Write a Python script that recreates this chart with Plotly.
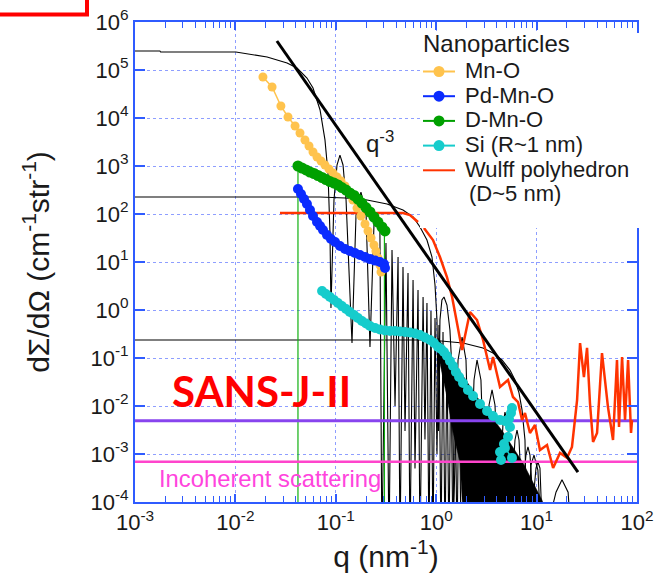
import plotly.graph_objects as go

# ---------------- data ----------------
series_names = ["Mn-O", "Pd-Mn-O", "D-Mn-O", "Si (R~1 nm)", "Wulff polyhedron"]
legend_title = "Nanoparticles"
wulff_note = "(D~5 nm)"

# Mn-O
q_mno = [0.0188, 0.0232, 0.0284, 0.0334, 0.0393, 0.044, 0.0493, 0.0541, 0.0593, 0.065,
         0.0713, 0.078, 0.0855, 0.0938, 0.1028, 0.1127, 0.1236, 0.135, 0.148, 0.1626,
         0.178, 0.1954, 0.2094, 0.2244, 0.240, 0.251, 0.263, 0.275, 0.282]
I_mno = [7.14e4, 4.43e4, 1.78e4, 1.05e4, 6.81e3, 4.87e3, 3.48e3, 2.61e3, 1.96e3, 1.54e3,
         1.27e3, 1.05e3, 866, 715, 590, 487, 383, 287, 196, 133,
         90.9, 61.9, 44.2, 31.6, 22.6, 16.9, 12.1, 8.66, 6.19]
# Pd-Mn-O
q_pd = [0.042, 0.045, 0.0482, 0.0516, 0.0553, 0.0593, 0.065, 0.0697, 0.0746, 0.0817, 0.0895,
        0.0983, 0.110, 0.1236, 0.138, 0.155, 0.174, 0.1954, 0.219, 0.246, 0.275, 0.302, 0.309]
I_pd = [332, 261, 205, 162, 121, 90.9, 68.1, 56.2, 46.4, 36.5, 30.1,
        26.1, 21.5, 18.7, 16.9, 15.4, 14.0, 12.7, 11.5, 10.7, 10.0, 9.09, 7.5]
# D-Mn-O
q_dmno = [0.042, 0.046, 0.0505, 0.0553, 0.0607, 0.0665, 0.073, 0.0798, 0.0875, 0.096, 0.105,
          0.115, 0.1265, 0.138, 0.152, 0.166, 0.182, 0.200, 0.219, 0.240, 0.263, 0.288, 0.309]
I_dmno = [1000, 909, 826, 750, 698, 634, 576, 523, 475, 442, 402,
          356, 316, 274, 243, 205, 169, 136, 110, 86.6, 68, 53.6, 44.3]
# Si (R~1 nm)
q_si = [0.073, 0.0798, 0.0875, 0.096, 0.105, 0.115, 0.1265, 0.138, 0.152, 0.166, 0.182, 0.200,
        0.219, 0.246, 0.275, 0.309, 0.347, 0.389, 0.436, 0.489, 0.548, 0.615, 0.690, 0.773,
        0.867, 0.951, 1.042, 1.116, 1.196, 1.28, 1.37, 1.47, 1.57, 1.69, 1.85, 2.07, 2.33,
        2.73, 3.21, 3.68, 4.32, 4.84, 5.31, 5.56, 5.69, 5.43, 5.19, 4.73, 4.32, 4.42, 4.84, 5.69]
I_si = [2.49, 2.15, 1.87, 1.62, 1.40, 1.21, 1.05, 0.909, 0.787, 0.681, 0.59, 0.523,
        0.464, 0.422, 0.392, 0.374, 0.365, 0.365, 0.356, 0.348, 0.34, 0.324, 0.301, 0.267,
        0.237, 0.205, 0.169, 0.154, 0.133, 0.11, 0.0866, 0.0681, 0.0511, 0.0402, 0.0301, 0.0215, 0.0162,
        0.011, 0.00787, 0.0062, 0.0051, 0.00487, 0.00536, 0.00715, 0.0091, 0.00365, 0.00226, 0.00162,
        0.0011, 0.00075, 0.00133, 0.00083]
# Wulff polyhedron (D~5 nm); None marks the gap in the drawn curve
q_wulff = [0.0278, 0.467, 0.548, 0.659, None, 0.755, 0.929, 1.09, 1.28, 1.44, 1.61, 1.81,
           2.17, 2.55, 2.93, 3.44, 3.68, 4.32, 5.19, 5.82, 6.53, 7.16, 7.66, 8.59, 9.64,
           10.8, 12.7, 14.6, 17.1, 20.1, 22.5, 25.3, 27.1, 29.6, 31.8, 34.0, 36.5, 40.0,
           44.8, 48.0, 51.4, 57.7, 63.2, 66.2, 71.0, 76.0, 81.5, 87.2, 89.2]
I_wulff = [105, 105, 95, 68, None, 51, 28.7, 12.7, 4.87, 1.87, 0.536, 0.147,
           0.909, 0.619, 0.237, 0.056, 0.105, 0.0249, 0.0348, 0.0154, 0.0121, 0.0051, 0.00715, 0.00274, 0.00402,
           0.00121, 0.00154, 0.00051, 0.00105, 0.00083, 0.0014, 0.0133, 0.205, 0.0402, 0.162, 0.01155, 0.00178, 0.00274,
           0.127, 0.0348, 0.0095, 0.00196, 0.0908, 0.00365, 0.105, 0.0051, 0.0908, 0.00274, 0.0051]
# model curve A (large sphere, plateau ~2.5e5)
q_A = [0.001, 0.00177, 0.0018, 0.0101, 0.0207, 0.0327, 0.0411, 0.0516, 0.0593, 0.0697, 0.078, 0.0836, 0.0875, 0.0895,
       0.0959, 0.1028, 0.110, 0.118, 0.1265, 0.145,
       0.159, 0.178, 0.200, 0.219,
       0.240, 0.257, 0.275, 0.288,
       0.316, 0.339, 0.363, 0.389, 0.417, 0.436, 0.467, 0.489, 0.524, 0.548, 0.588, 0.615, 0.659,
       0.690, 0.740, 0.773, 0.809, 0.847, 0.887, 0.929, 0.973, 1.018, 1.066, 1.116, 1.169, 1.224,
       1.28, 1.34, 1.40, 1.47, 1.54, 1.61, 1.69, 1.77]
I_A = [2.49e5, 2.49e5, 2.37e5, 2.37e5, 1.87e5, 1.40e5, 1.10e5, 6.8e4, 4.2e4, 1.47e4, 3.5e3, 715, 40, 1.1,
       196, 1050, 1690, 1050, 196, 0.205,
       95, 287, 110, 0.17,
       59, 75, 42, 1e-5,
       24.9, 1e-5, 17.8, 0.01, 12.7, 1e-5, 7.87, 3e-3, 5.9, 1e-5, 4.22, 5e-4, 2.61,
       1e-5, 1.87, 2e-3, 1.40, 1e-5, 0.953, 1e-5, 0.68, 1e-3, 0.487, 1e-5, 0.348, 1e-5,
       0.133, 1e-5, 0.1, 1e-5, 0.075, 1e-5, 0.056, 1e-5]
# dense oscillation region of curve A (outline)
q_mass = [1.042, 2.55, 4.62, 7.33, 11.3, 13.0, 1.85, 1.73, 1.47, 1.28, 1.09]
I_mass = [0.261, 0.0154, 2.87e-3, 6.5e-4, 1.1e-4, 5e-5, 5e-5, 6.5e-4, 2.87e-3, 0.0154, 0.0787]
# model curve B (plateau ~226)
q_B = [0.001, 0.0697, 0.124, 0.205, 0.324, 0.467, 0.588, 0.690, 0.809, 0.908, 0.973, 1.018, 1.054, 1.09,
       1.14, 1.196, 1.28, 1.37, 1.436, 1.50,
       1.65, 1.81, 1.98, 2.17, 2.38, 2.55, 2.79, 3.06, 3.36, 3.60, 3.85, 4.22, 4.62, 4.84, 5.19, 5.56,
       6.09, 6.38, 6.68, 7.16, 7.83, 8.20, 8.59, 9.21, 9.86, 10.3, 10.8, 11.6]
I_B = [226, 226, 215, 196, 162, 121, 86.6, 53.6, 28.7, 12.7, 3.32, 0.62, 3e-3, 0.62,
       1.62, 1.87, 1.27, 0.383, 0.056, 1e-4,
       0.091, 0.274, 0.091, 1e-4, 0.0348, 0.091, 0.0348, 1e-4, 0.0105, 0.0216, 0.0105, 1e-4,
       4.0e-3, 7.5e-3, 4.0e-3, 1e-4, 1.96e-3, 3.16e-3, 1.96e-3, 1e-4, 9.5e-4, 1.4e-3, 9.5e-4, 1e-4,
       5.1e-4, 6.8e-4, 5.1e-4, 1e-5]
# model curve C (plateau ~0.24)
q_C = [0.001, 0.867, 1.85, 2.92, 3.68, 4.52, 5.43, 6.09, 6.68, 7.16, 7.66, 8.02, 8.79, 9.42,
       10.3, 11.3, 15.6, 17.9, 20.6, 22.5]
I_C = [0.237, 0.237, 0.205, 0.162, 0.127, 0.091, 0.056, 0.0348, 0.0187, 8.3e-3, 1.96e-3, 1e-5, 5.9e-4, 9.5e-4,
       4.6e-4, 1e-5, 1.6e-4, 2.9e-4, 1.6e-4, 1e-5]
# q^-3 guide line
q_pow = [0.0259, 25.8]
I_pow = [4.02e5, 4.2e-4]
# D-Mn-O q-range markers
q_lo = [0.042, 0.042]
I_lo = [1000, 5e-5]
q_hi = [0.305, 0.305]
I_hi = [44, 5e-5]
# horizontal levels
q_full = [0.001, 100]
I_sansj = [4.9e-3, 4.9e-3]
I_incoh = [6.9e-4, 6.9e-4]

x_tickvals = [1e-3, 1e-2, 1e-1, 1e0, 1e1, 1e2]
x_ticktext = ["10<sup>-3</sup>", "10<sup>-2</sup>", "10<sup>-1</sup>", "10<sup>0</sup>",
              "10<sup>1</sup>", "10<sup>2</sup>"]
y_tickvals = [1e-4, 1e-3, 1e-2, 1e-1, 1e0, 1e1, 1e2, 1e3, 1e4, 1e5, 1e6]
y_ticktext = ["10<sup>-4</sup>", "10<sup>-3</sup>", "10<sup>-2</sup>", "10<sup>-1</sup>", "10<sup>0</sup>",
              "10<sup>1</sup>", "10<sup>2</sup>", "10<sup>3</sup>", "10<sup>4</sup>", "10<sup>5</sup>",
              "10<sup>6</sup>"]
x_minor = [m * 10.0 ** e for e in range(-3, 2) for m in range(2, 10)]

# ---------------- styling ----------------
W, H = 669, 578
L, R, T, B = 135, 32, 22, 76
AX = "#2F5BFF"
GRID = "#8E9EFF"
FONT = "Liberation Sans, Arial, sans-serif"
TXT = "#1a1a1a"
C_MNO, C_PD, C_DMNO, C_SI, C_WULFF = "#FFC34D", "#0A2BFF", "#00A000", "#16CCCC", "#FF3300"


def px2paper_x(p):
    return (p - L) / (W - L - R)


def px2paper_y(p):
    return (H - B - p) / (H - T - B)


fig = go.Figure()
thin = dict(color="black", width=1.1)
fig.add_trace(go.Scatter(x=q_A, y=I_A, mode="lines", line=thin))
fig.add_trace(go.Scatter(x=q_mass, y=I_mass, mode="lines", fill="toself", fillcolor="black",
                         line=dict(color="black", width=0.5)))
fig.add_trace(go.Scatter(x=q_B, y=I_B, mode="lines", line=thin))
fig.add_trace(go.Scatter(x=q_C, y=I_C, mode="lines", line=thin))
fig.add_trace(go.Scatter(x=q_lo, y=I_lo, mode="lines", line=dict(color="#10B010", width=1.2)))
fig.add_trace(go.Scatter(x=q_hi, y=I_hi, mode="lines", line=dict(color="#10B010", width=1.2)))
fig.add_trace(go.Scatter(x=q_full, y=I_incoh, mode="lines", line=dict(color="#FF44CC", width=2.5)))
fig.add_trace(go.Scatter(x=q_full, y=I_sansj, mode="lines", line=dict(color="#8844EE", width=3)))
fig.add_trace(go.Scatter(x=q_wulff, y=I_wulff, mode="lines", line=dict(color=C_WULFF, width=2.5),
                         name=series_names[4], connectgaps=False))
fig.add_trace(go.Scatter(x=q_pow, y=I_pow, mode="lines", line=dict(color="black", width=3)))

mk = lambda c, s: dict(color=c, size=s, line=dict(width=0))
fig.add_trace(go.Scatter(x=q_mno, y=I_mno, mode="lines+markers", name=series_names[0],
                         line=dict(color=C_MNO, width=1.5), marker=mk(C_MNO, 9)))
fig.add_trace(go.Scatter(x=q_pd, y=I_pd, mode="lines+markers", name=series_names[1],
                         line=dict(color=C_PD, width=1.5), marker=mk(C_PD, 10)))
fig.add_trace(go.Scatter(x=q_si, y=I_si, mode="lines+markers", name=series_names[3],
                         line=dict(color=C_SI, width=1.5), marker=mk(C_SI, 10)))
fig.add_trace(go.Scatter(x=q_dmno, y=I_dmno, mode="lines+markers", name=series_names[2],
                         line=dict(color=C_DMNO, width=1.5), marker=mk(C_DMNO, 11)))

axis_common = dict(type="log", showline=True, linecolor=AX, linewidth=2, mirror="ticks",
                   ticks="inside", tickcolor=AX, tickwidth=1.5,
                   showgrid=True, gridcolor=GRID, griddash="dot", gridwidth=1,
                   zeroline=False, tickmode="array",
                   tickfont=dict(family=FONT, size=22, color=TXT))

fig.update_xaxes(**axis_common, range=[-3, 2], tickvals=x_tickvals, ticktext=x_ticktext, ticklen=8,
                 minor=dict(tickmode="array", tickvals=x_minor, ticks="inside", ticklen=6,
                            tickcolor=AX, tickwidth=1.2, showgrid=False),
                 title=dict(text="q (nm<sup>-1</sup>)", font=dict(family=FONT, size=30, color=TXT),
                            standoff=0))
fig.update_yaxes(**axis_common, range=[-4, 6], tickvals=y_tickvals, ticktext=y_ticktext, ticklen=10,
                 title=dict(text="dΣ/dΩ (cm<sup>-1</sup>str<sup>-1</sup>)",
                            font=dict(family=FONT, size=30, color=TXT), standoff=32))

shapes = [
    # white legend panel hiding the grid / right spine behind the legend
    dict(type="rect", xref="paper", yref="paper", x0=px2paper_x(420), x1=px2paper_x(660),
         y0=px2paper_y(228), y1=px2paper_y(33), fillcolor="white", line=dict(width=0), layer="above"),
    # red frame corner at the top left
    dict(type="path", xref="paper", yref="paper",
         path=f"M {px2paper_x(-5)},{px2paper_y(14.5)} L {px2paper_x(87)},{px2paper_y(14.5)} "
              f"L {px2paper_x(87)},{px2paper_y(-5)}",
         line=dict(color="#FF0000", width=4), layer="above"),
]

annotations = [
    dict(x=-0.56, y=3.5, xref="x", yref="y", text="q<sup>-3</sup>", showarrow=False,
         font=dict(family=FONT, size=24, color=TXT)),
    dict(x=-1.745, y=-1.6875, xref="x", yref="y", text="<b>SANS-J-II</b>", showarrow=False,
         font=dict(family="Lato, sans-serif", size=42, color="#FF0000")),
    dict(x=-2.781, y=-3.5, xref="x", yref="y", text="Incoherent scattering", showarrow=False,
         xanchor="left", font=dict(family=FONT, size=23.8, color="#FF44DD")),
]

# legend drawn as a panel of swatches and labels (rows in pixels)
leg_rows = [70.5, 95.2, 119.9, 144.6, 169.3]
note_row = 194
leg_colors = [C_MNO, C_PD, C_DMNO, C_SI, C_WULFF]
leg_marker = [True, True, True, True, False]
LEG_FONT = dict(family=FONT, size=22, color=TXT)
annotations.append(dict(x=px2paper_x(421), y=px2paper_y(44), xref="paper", yref="paper",
                        text=legend_title, showarrow=False, xanchor="left", yanchor="middle",
                        font=dict(family=FONT, size=24, color=TXT)))
for name, row, col, has_mk in zip(series_names, leg_rows, leg_colors, leg_marker):
    shapes.append(dict(type="line", xref="paper", yref="paper", x0=px2paper_x(423), x1=px2paper_x(455),
                       y0=px2paper_y(row + 1), y1=px2paper_y(row + 1), line=dict(color=col, width=2),
                       layer="above"))
    if has_mk:
        shapes.append(dict(type="circle", xref="paper", yref="paper",
                           x0=px2paper_x(439 - 5.5), x1=px2paper_x(439 + 5.5),
                           y0=px2paper_y(row + 6.5), y1=px2paper_y(row - 4.5),
                           fillcolor=col, line=dict(width=0), layer="above"))
    annotations.append(dict(x=px2paper_x(463), y=px2paper_y(row), xref="paper", yref="paper",
                            text=name, showarrow=False, xanchor="left", yanchor="middle", font=LEG_FONT))
annotations.append(dict(x=px2paper_x(467), y=px2paper_y(note_row), xref="paper", yref="paper",
                        text=wulff_note, showarrow=False, xanchor="left", yanchor="middle", font=LEG_FONT))

fig.update_layout(
    width=W, height=H, margin=dict(l=L, r=R, t=T, b=B, autoexpand=False),
    paper_bgcolor="white", plot_bgcolor="white",
    shapes=shapes, annotations=annotations,
    showlegend=False,
)

fig.write_html("out.html", config=dict(displayModeBar=False),
               post_script="document.body.style.margin='0px';document.body.style.overflow='hidden';")
